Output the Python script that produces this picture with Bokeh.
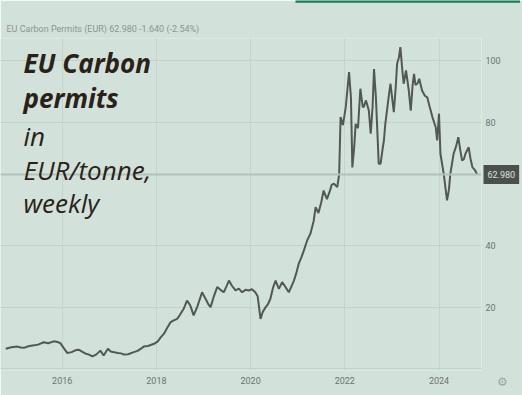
from bokeh.plotting import figure
from bokeh.models import FixedTicker, Label, Span, Range1d
from bokeh.embed import file_html
from bokeh.resources import INLINE

# ---- data ----
years = [2014.80, 2014.92, 2015.05, 2015.12, 2015.19, 2015.28, 2015.40, 2015.50, 2015.61, 2015.70,
         2015.82, 2015.90, 2015.96, 2016.03, 2016.11, 2016.20, 2016.28, 2016.35, 2016.43, 2016.50,
         2016.57, 2016.64, 2016.72, 2016.81, 2016.88, 2016.97, 2017.03, 2017.10, 2017.18, 2017.25,
         2017.31, 2017.40, 2017.52, 2017.60, 2017.68, 2017.73, 2017.82, 2017.95, 2018.03, 2018.09,
         2018.16, 2018.23, 2018.30, 2018.37, 2018.44, 2018.50, 2018.58, 2018.65, 2018.72, 2018.79,
         2018.86, 2018.92, 2018.97, 2019.04, 2019.10, 2019.15, 2019.22, 2019.29, 2019.36, 2019.43,
         2019.49, 2019.54, 2019.60, 2019.68, 2019.75, 2019.82, 2019.89, 2019.96, 2020.03, 2020.10,
         2020.15, 2020.21, 2020.26, 2020.32, 2020.37, 2020.42, 2020.48, 2020.53, 2020.60, 2020.67,
         2020.74, 2020.81, 2020.87, 2020.92, 2020.97, 2021.02, 2021.08, 2021.13, 2021.20, 2021.27,
         2021.34, 2021.38, 2021.44, 2021.50, 2021.55, 2021.62, 2021.68, 2021.72, 2021.77, 2021.84,
         2021.88, 2021.91, 2021.96, 2022.02, 2022.09, 2022.13, 2022.16, 2022.20, 2022.23, 2022.28,
         2022.33, 2022.38, 2022.40, 2022.45, 2022.51, 2022.55, 2022.59, 2022.62, 2022.66, 2022.72,
         2022.76, 2022.80, 2022.83, 2022.86, 2022.93, 2022.97, 2023.04, 2023.08, 2023.11, 2023.15,
         2023.18, 2023.22, 2023.25, 2023.30, 2023.36, 2023.40, 2023.44, 2023.47, 2023.50, 2023.54,
         2023.58, 2023.64, 2023.70, 2023.75, 2023.80, 2023.86, 2023.93, 2023.96, 2024.00, 2024.03,
         2024.10, 2024.17, 2024.21, 2024.24, 2024.31, 2024.36, 2024.41, 2024.45, 2024.49, 2024.53,
         2024.56, 2024.63, 2024.67, 2024.71, 2024.76, 2024.81]
prices = [6.5, 7.0, 7.2, 6.9, 6.8, 7.3, 7.6, 7.9, 8.6, 8.3,
          8.9, 8.7, 8.3, 6.8, 5.1, 5.4, 6.0, 6.2, 5.5, 4.9,
          4.6, 4.0, 4.6, 5.9, 4.3, 6.5, 5.6, 5.4, 5.1, 5.0,
          4.6, 4.7, 5.4, 5.8, 6.6, 7.2, 7.4, 8.1, 8.9, 10.2,
          11.4, 13.3, 15.1, 15.7, 16.2, 17.5, 19.5, 22.1, 20.5, 17.3,
          19.8, 22.5, 24.8, 22.8, 21.0, 20.0, 23.5, 26.5, 25.6, 24.8,
          26.8, 28.6, 27.0, 25.4, 26.0, 24.8, 25.6, 25.4, 25.8, 24.8,
          23.5, 16.2, 18.5, 20.0, 21.0, 22.7, 26.5, 28.6, 25.9, 28.1,
          26.5, 24.8, 26.8, 28.6, 31.0, 34.0, 36.2, 38.3, 41.6, 43.8,
          48.0, 52.4, 50.5, 54.0, 57.8, 55.0, 57.5, 59.6, 60.0, 58.9,
          63.0, 81.6, 79.0, 84.8, 96.2, 88.0, 65.3, 72.0, 79.4, 78.0,
          90.8, 85.0, 84.8, 87.0, 83.7, 76.2, 85.0, 97.2, 88.0, 66.5,
          66.5, 71.0, 74.0, 79.4, 88.0, 92.4, 83.2, 91.0, 98.9, 101.0,
          104.3, 97.0, 92.4, 96.7, 90.0, 83.7, 92.0, 95.6, 92.0, 92.4,
          94.0, 90.2, 88.5, 88.0, 85.0, 81.6, 78.3, 74.0, 82.7, 69.7,
          63.2, 54.6, 58.0, 63.2, 69.7, 72.0, 75.1, 71.0, 67.5, 68.0,
          69.7, 71.8, 68.0, 65.3, 64.5, 63.0]
last_price = 62.98
x_ticks = [2016, 2018, 2020, 2022, 2024]
y_ticks = [20, 40, 80, 100]
y_grid = [0, 20, 40, 80, 100]
header = "EU Carbon Permits (EUR) 62.980 -1.640 (-2.54%)"
title_bold = ["EU Carbon", "permits"]
title_plain = ["in", "EUR/tonne,", "weekly"]

# ---- geometry ----
W, H = 522, 395
BL, BR, BT, BB = 0, 41, 38, 25
FW, FH = W - BL - BR, H - BT - BB
x0, x1 = 2014.69, 2024.902
y0, y1 = -0.55, 107.07


def px2x(px):
    return x0 + (px - BL) / FW * (x1 - x0)


def px2y(py):
    return y0 + (BT + FH - py) / FH * (y1 - y0)


BG = "#d2e2da"
p = figure(width=W, height=H, output_backend="svg", toolbar_location=None,
           x_range=Range1d(x0, x1), y_range=Range1d(y0, y1),
           y_axis_location="right",
           min_border_left=BL, min_border_right=BR, min_border_top=BT, min_border_bottom=BB)
p.background_fill_color = BG
p.border_fill_color = BG
p.outline_line_color = None

for ax in (p.xaxis[0], p.yaxis[0]):
    ax.axis_line_color = None
    ax.major_tick_line_color = None
    ax.minor_tick_line_color = None
    ax.major_tick_out = 0
    ax.major_tick_in = 0
    ax.minor_tick_out = 0
    ax.minor_tick_in = 0
    ax.major_label_text_font = "Roboto"
    ax.major_label_text_font_size = "9px"
    ax.major_label_text_color = "#6c7370"
p.xaxis.ticker = FixedTicker(ticks=x_ticks)
p.xaxis.major_label_standoff = 6
p.yaxis.ticker = FixedTicker(ticks=y_ticks)
p.yaxis.major_label_standoff = 4

p.xgrid.ticker = FixedTicker(ticks=x_ticks)
p.ygrid.ticker = FixedTicker(ticks=y_grid)
p.xgrid.grid_line_color = "#c5d5cd"
p.ygrid.grid_line_color = "#c3d3cb"

p.add_layout(Span(location=last_price, dimension="width", line_color="#b2c2ba", line_width=2))

p.line(years, prices, line_color="#525854", line_width=2)

# header (in the top panel: not clipped to the frame)
p.add_layout(Label(x=px2x(6), y=px2y(28), text=header, text_font="Roboto", text_font_size="9px",
                   text_color="#8c9590", text_baseline="middle"), "above")

# price tag (top panel too, positioned in data units); padding = (left, right, top, bottom)
p.add_layout(Label(x=px2x(483), y=last_price, text=f"{last_price:.3f}", text_font="Roboto",
                   text_font_size="9px", text_color="#dbe4df", text_baseline="middle",
                   background_fill_color="#4b504d", background_fill_alpha=1,
                   padding=(4, 4, 6, 6)), "above")

# thin green bar at the top edge (empty label with a filled box)
p.add_layout(Label(x=px2x(295), y=px2y(0), text="\u00a0", text_font_size="2px",
                   text_baseline="top", text_color="#1d7a5b",
                   background_fill_color="#1d7a5b", background_fill_alpha=1,
                   padding=(112, 112, 0, 0)), "above")

# settings glyph (right panel has spare width)
p.add_layout(Label(x=px2x(502), y=px2y(381), text="\u2699", text_font="DejaVu Sans",
                   text_font_size="12px", text_color="#9ea7a2", text_align="center",
                   text_baseline="middle"), "right")

# title text inside the frame
baselines = [62, 97, 135, 169, 202]
lines = [(t, "bold italic") for t in title_bold] + [(t, "italic") for t in title_plain]
for (t, style), b in zip(lines, baselines):
    p.add_layout(Label(x=px2x(23), y=px2y(b), text=t, text_font="Open Sans",
                       text_font_style=style, text_font_size="26px", text_color="#2a2118",
                       text_baseline="alphabetic"))

open("out.html", "w").write(file_html(p, INLINE))
